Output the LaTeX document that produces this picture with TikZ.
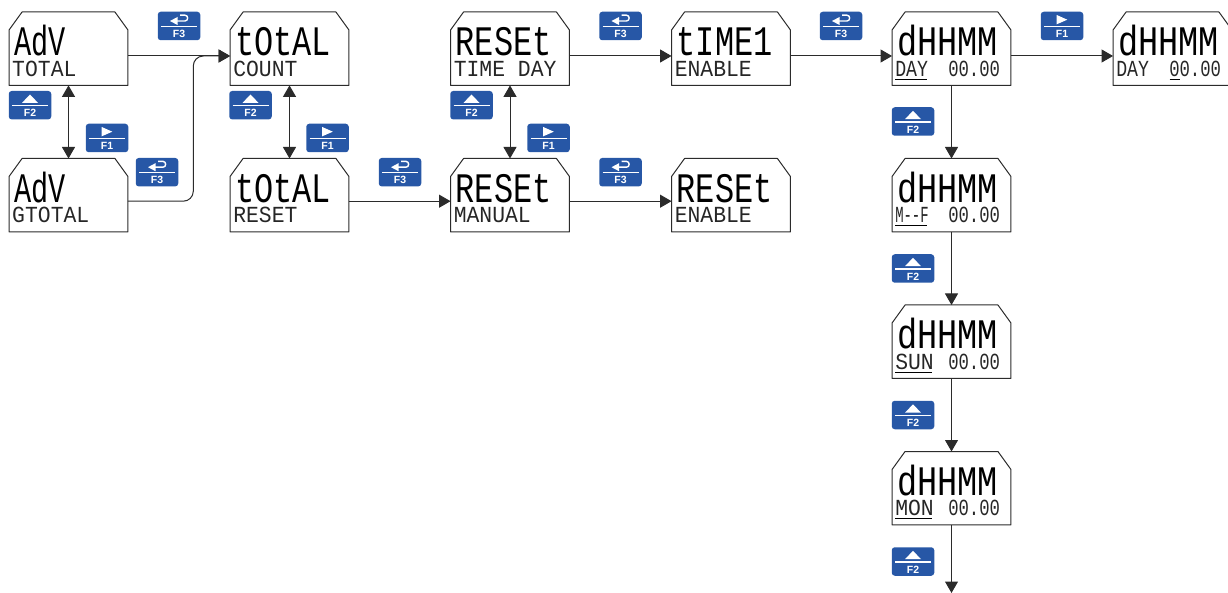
\documentclass[tikz,border=0pt]{standalone}
\usepackage{fontspec}
\usepackage{xcolor}
\setmainfont{Liberation Sans}
\newfontfamily\lcdfont{Liberation Mono}
\definecolor{kpBlue}{HTML}{2757A6}
\definecolor{kpInk}{HTML}{2B2B2B}
\usetikzlibrary{arrows.meta}
\tikzset{
    lcdbox/.style={inner sep=0pt, minimum width=118.5pt, minimum height=73pt},
    lcdedge/.style={draw=kpInk, line width=1pt, line join=round},
    lcdbig/.style={anchor=base west, inner sep=0pt, text=black, font=\lcdfont\fontsize{42}{42}\selectfont},
    lcdsmall/.style={anchor=base west, inner sep=0pt, text=black!85, font=\lcdfont\fontsize{23}{23}\selectfont},
    keybox/.style={fill=kpBlue, rounded corners=3pt, minimum width=42.5pt, minimum height=28.5pt, inner sep=0pt},
    keytext/.style={inner sep=0pt, text=white, font=\bfseries\fontsize{10.5}{10.5}\selectfont},
    flow/.style={draw=kpInk, line width=1pt, -{Triangle[length=11.5pt,width=13pt]}},
    flowboth/.style={draw=kpInk, line width=1pt, {Triangle[length=11.5pt,width=13pt]}-{Triangle[length=11.5pt,width=13pt]}},
}
% display: name, centre x, centre y, big line, small line
\newcommand{\lcd}[6][.76]{
    \node[lcdbox] (#2) at (#3,#4) {};
    \draw[lcdedge] ([xshift=13pt]#2.north west) -- ([xshift=-13pt]#2.north east) -- ([yshift=-18pt]#2.north east)
        -- (#2.south east) -- (#2.south west) -- ([yshift=-18pt]#2.north west) -- cycle;
    \node[lcdbig] (#2-big) at ([shift={(5,7)}]#2.west) {\scalebox{#1}[1]{#5}};
    \node[lcdsmall] (#2-small) at ([shift={(3,27.5)}]#2.west) {\scalebox{.93}[1]{#6}};
}
\newcommand{\lcdtime}[1]{
    \node[lcdsmall] (#1-time) at ([shift={(56,27.5)}]#1.west) {\scalebox{.75}[1]{00.00}};
}
\newcommand{\lcdmark}[3]{
    \draw[black, line width=.9pt] ([shift={(#2,-6)}]#1.south west) -- ([shift={(#3,-6)}]#1.south west);
}
% keys: name, centre x, centre y
\newcommand{\keybase}[4]{
    \node[keybox] (#1) at (#2,#3) {};
    \draw[white, line width=1.2pt] ([shift={(-18,.5)}]#1.center) -- ([shift={(18,.5)}]#1.center);
    \node[keytext] (#1-label) at ([shift={(0,8)}]#1.center) {#4};
}
\newcommand{\keyup}[3]{
    \keybase{#1}{#2}{#3}{F2}
    \fill[white, shift={(#1.center)}] (-8,-2.3) -- (8,-2.3) -- (0,-10.7) -- cycle;
}
\newcommand{\keyright}[3]{
    \keybase{#1}{#2}{#3}{F1}
    \fill[white, shift={(#1.center)}] (-5.3,-11) -- (5.3,-6.3) -- (-5.3,-1.7) -- cycle;
}
\newcommand{\keyenter}[3]{
    \keybase{#1}{#2}{#3}{F3}
    \fill[white, shift={(#1.center)}] (-9,-5) -- (-1.5,-9) -- (-1.5,-1) -- cycle;
    \draw[white, line width=1.4pt, shift={(#1.center)}] (-2,-5) -- (6,-5) .. controls (9.5,-5) and (9.5,-10.8) .. (6,-10.8) -- (1,-10.8);
}

\begin{document}
\begin{tikzpicture}[x=1pt, y=-1pt]
    \clip (0,0) rectangle (1228,593);
    \lcd[.68]{advtotal}{68.5}{48.7}{AdV}{TOTAL}
    \lcd[.68]{advgtotal}{68.5}{195.2}{AdV}{GTOTAL}
    \lcd{totalcount}{289.5}{48.7}{tOtAL}{COUNT}
    \lcd{totalreset}{289.5}{195.2}{tOtAL}{RESET}
    \lcd{resettime}{510}{48.7}{RESEt}{TIME DAY}
    \lcd{resetman}{510}{195.2}{RESEt}{MANUAL}
    \lcd{timeen}{731}{48.7}{tIME1}{ENABLE}
    \lcd{reseten}{731}{195.2}{RESEt}{ENABLE}
    \lcd[.8]{hhday}{951.5}{48.7}{dHHMM}{\scalebox{.85}[1]{DAY}}
    \lcd[.8]{hhdaytwo}{1172.5}{48.7}{dHHMM}{\scalebox{.85}[1]{DAY}}
    \lcd[.8]{hhmf}{951.5}{195.2}{dHHMM}{\scalebox{.65}[1]{M--F}}
    \lcd[.8]{hhsun}{951.5}{341.7}{dHHMM}{SUN}
    \lcd[.8]{hhmon}{951.5}{488.2}{dHHMM}{MON}
    \lcdtime{hhday}
    \lcdtime{hhdaytwo}
    \lcdtime{hhmf}
    \lcdtime{hhsun}
    \lcdtime{hhmon}
    \lcdmark{hhday}{3}{35}
    \lcdmark{hhdaytwo}{56.5}{67}
    \lcdmark{hhmf}{3}{35}
    \lcdmark{hhsun}{3}{40}
    \lcdmark{hhmon}{3}{40}

    \keyenter{keya}{179}{26}
    \keyup{keyb}{30}{105.2}
    \keyright{keyc}{107}{138}
    \keyenter{keyd}{157}{172.2}
    \keyup{keye}{250.5}{105.2}
    \keyright{keyf}{327.5}{138}
    \keyenter{keyg}{400}{172.2}
    \keyup{keyh}{471.5}{105.2}
    \keyright{keyi}{548.5}{138}
    \keyenter{keyj}{620.5}{26}
    \keyenter{keyk}{620.5}{172.2}
    \keyenter{keyl}{841}{26}
    \keyright{keym}{1062}{26}
    \keyup{keyn}{913}{121.5}
    \keyup{keyo}{913}{268.5}
    \keyup{keyp}{913}{415}
    \keyup{keyq}{913}{561.5}

    \coordinate (join) at (193.3,56);
    \coordinate (tail) at (951.5,593);
    \draw[flow] ([yshift=-7.3pt]advtotal.east) -- ([yshift=-7.3pt]totalcount.west);
    \draw[flow, rounded corners=10pt] ([yshift=-6pt]advgtotal.east) -| (join) -- ([yshift=-7.3pt]totalcount.west);
    \draw[flowboth] (advtotal.south) -- (advgtotal.north);
    \draw[flowboth] (totalcount.south) -- (totalreset.north);
    \draw[flowboth] (resettime.south) -- (resetman.north);
    \draw[flow] ([yshift=-6pt]totalreset.east) -- ([yshift=-6pt]resetman.west);
    \draw[flow] ([yshift=-7.3pt]resettime.east) -- ([yshift=-7.3pt]timeen.west);
    \draw[flow] ([yshift=-6pt]resetman.east) -- ([yshift=-6pt]reseten.west);
    \draw[flow] ([yshift=-7.3pt]timeen.east) -- ([yshift=-7.3pt]hhday.west);
    \draw[flow] ([yshift=-7.3pt]hhday.east) -- ([yshift=-7.3pt]hhdaytwo.west);
    \draw[flow] (hhday.south) -- (hhmf.north);
    \draw[flow] (hhmf.south) -- (hhsun.north);
    \draw[flow] (hhsun.south) -- (hhmon.north);
    \draw[flow] (hhmon.south) -- (tail);
\end{tikzpicture}
\end{document}
